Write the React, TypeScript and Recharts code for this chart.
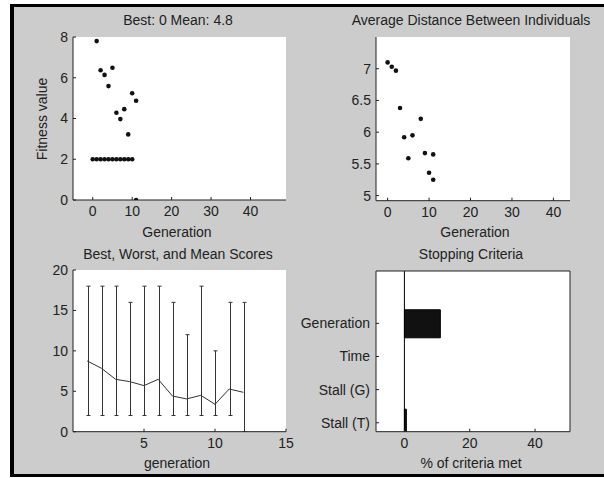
import React from "react";
import {
  ScatterChart, Scatter, ComposedChart, Line, Bar, BarChart,
  XAxis, YAxis, CartesianGrid, ReferenceLine,
} from "recharts";

const W = 604, H = 478;
const YW = 70, XH = 30;
const ink = "#222";
const font = "'Liberation Sans', Arial, sans-serif";

// top-left: best / mean fitness per generation
const bestGens = [0, 1, 2, 3, 4, 5, 6, 7, 8, 9, 10, 11];
const bestFitness = [2, 2, 2, 2, 2, 2, 2, 2, 2, 2, 2, 0];
const meanGens = [1, 2, 3, 4, 5, 6, 7, 8, 9, 10, 11];
const meanFitness = [7.8, 6.37, 6.14, 5.59, 6.49, 4.28, 3.97, 4.46, 3.22, 5.24, 4.87];

// top-right: average distance
const distGens = [0, 1, 2, 3, 4, 5, 6, 8, 9, 10, 11, 11];
const distValues = [7.1, 7.03, 6.97, 6.38, 5.92, 5.59, 5.95, 6.21, 5.67, 5.36, 5.65, 5.25];

// bottom-left: best, worst, mean scores
const scoreGens = [1, 2, 3, 4, 5, 6, 7, 8, 9, 10, 11, 12];
const bestScores = [2, 2, 2, 2, 2, 2, 2, 2, 2, 2, 2, 0];
const worstScores = [18, 18, 18, 16, 18, 18, 16, 12, 18, 10, 16, 16];
const meanScores = [8.75, 7.85, 6.48, 6.19, 5.7, 6.48, 4.42, 4.05, 4.5, 3.39, 5.28, 4.87];

// bottom-right: stopping criteria (bottom to top)
const criteria = ["Stall (T)", "Stall (G)", "Time", "Generation"];
const criteriaPct = [0.6, 0, 0, 11];

const bestPts = bestGens.map((g, i) => ({ gen: g, val: bestFitness[i] }));
const meanPts = meanGens.map((g, i) => ({ gen: g, val: meanFitness[i] }));
const distPts = distGens.map((g, i) => ({ gen: g, val: distValues[i] }));
const scoreRows = scoreGens.map((g, i) => ({ gen: g, best: bestScores[i], worst: worstScores[i], mean: meanScores[i] }));
const stopRows = criteria.map((c, i) => ({ pos: i + 1, name: c, pct: criteriaPct[i] }));

const tickStyle = { fill: ink, fontSize: 14, fontFamily: font };

// plot rect -> margins
const mg = (l: number, t: number, r: number, b: number, extraR = 0, extraT = 0) => ({
  left: l - YW, top: t - extraT, right: W - r - extraR, bottom: H - b - XH,
});

const Dot = (p: any) => <circle cx={p.cx} cy={p.cy} r={2.3} fill="#111" />;

const RangeShape = (p: any) => {
  const cx = Math.round(p.x + p.width / 2) + 0.5;
  const y1 = p.y, y2 = p.y + p.height;
  return (
    <g stroke="#333" strokeWidth={1}>
      <line x1={cx} x2={cx} y1={y1} y2={y2} />
      <line x1={cx - 2} x2={cx + 2} y1={y1} y2={y1} />
      <line x1={cx - 2} x2={cx + 2} y1={y2} y2={y2} />
    </g>
  );
};

const layer: React.CSSProperties = { position: "absolute", left: 0, top: 0 };

const Txt = ({ x, y, children, rot }: { x: number; y: number; children: React.ReactNode; rot?: boolean }) => (
  <div style={{
    position: "absolute", left: x, top: y, whiteSpace: "nowrap", fontSize: 14, color: ink, fontFamily: font,
    transform: `translate(-50%,-50%)${rot ? " rotate(-90deg)" : ""}`, lineHeight: 1,
  }}>{children}</div>
);

export default function App() {
  return (
    <div style={{ position: "absolute", left: 0, top: 0, width: W, height: H, background: "#fff", overflow: "hidden", fontFamily: font }}>
      <div style={{
        position: "absolute", left: 10, top: 4, width: W + 10, height: 473, boxSizing: "border-box",
        background: "#cccccc", borderTop: "3px solid #000", borderLeft: "4px solid #000", borderBottom: "3px solid #000",
      }} />

      {/* top-left */}
      <div style={layer}>
        <ScatterChart width={W} height={H} margin={mg(73, 37, 286, 200)}>
          <CartesianGrid fill="#fff" horizontal={false} vertical={false} />
          <XAxis type="number" dataKey="gen" domain={[-5, 49]} ticks={[0, 10, 20, 30, 40]} interval={0}
            height={XH} tickSize={-3} tickMargin={9} stroke={ink} tick={tickStyle} allowDataOverflow />
          <YAxis type="number" dataKey="val" domain={[0, 8]} ticks={[0, 2, 4, 6, 8]} interval={0}
            width={YW} tickSize={-3} tickMargin={8} stroke={ink} tick={tickStyle} allowDataOverflow />
          <Scatter data={bestPts} shape={Dot} isAnimationActive={false} />
          <Scatter data={meanPts} shape={Dot} isAnimationActive={false} />
        </ScatterChart>
      </div>

      {/* top-right */}
      <div style={layer}>
        <ScatterChart width={W} height={H} margin={mg(376, 37, 570, 200.7)}>
          <CartesianGrid fill="#fff" horizontal={false} vertical={false} />
          <XAxis type="number" dataKey="gen" domain={[-2.8, 44]} ticks={[0, 10, 20, 30, 40]} interval={0}
            height={XH} tickSize={-3} tickMargin={9} stroke={ink} tick={tickStyle} allowDataOverflow />
          <YAxis type="number" dataKey="val" domain={[4.92, 7.5]} ticks={[5, 5.5, 6, 6.5, 7]} interval={0}
            width={YW} tickSize={-3} tickMargin={8} stroke={ink} tick={tickStyle} allowDataOverflow />
          <Scatter data={distPts} shape={Dot} isAnimationActive={false} />
        </ScatterChart>
      </div>

      {/* bottom-left */}
      <div style={layer}>
        <ComposedChart width={W} height={H} data={scoreRows} margin={mg(73, 270, 286, 431.7)}>
          <CartesianGrid fill="#fff" horizontal={false} vertical={false} />
          <XAxis type="number" dataKey="gen" domain={[0, 15]} ticks={[5, 10, 15]} interval={0}
            height={XH} tickSize={-3} tickMargin={9} stroke={ink} tick={tickStyle} allowDataOverflow />
          <YAxis type="number" domain={[0, 20]} ticks={[0, 5, 10, 15, 20]} interval={0}
            width={YW} tickSize={-3} tickMargin={8} stroke={ink} tick={tickStyle} allowDataOverflow />
          <Bar dataKey={(d: any) => [d.best, d.worst]} barSize={5} shape={RangeShape} isAnimationActive={false} />
          <Line type="linear" dataKey="mean" stroke="#333" strokeWidth={1} dot={false} isAnimationActive={false} />
        </ComposedChart>
      </div>

      {/* bottom-right */}
      <div style={layer}>
        <BarChart layout="vertical" width={W} height={H} data={stopRows} barSize={28}
          margin={mg(376, 271, 570, 431.7, 10, 10)}>
          <CartesianGrid fill="#fff" horizontal={false} vertical={false} />
          <XAxis type="number" domain={[-8.7, 50.7]} ticks={[0, 20, 40]} interval={0}
            height={XH} tickSize={-3} tickMargin={9} stroke={ink} tick={tickStyle} allowDataOverflow />
          <XAxis xAxisId="top" orientation="top" type="number" domain={[-8.7, 50.7]} ticks={[0, 20, 40]}
            height={10} tickSize={-3} tick={false} stroke={ink} allowDataOverflow />
          <YAxis type="number" dataKey="pos" domain={[0.73, 5.58]} ticks={[1, 2, 3, 4]} interval={0} reversed
            tickFormatter={(v: number) => criteria[v - 1]}
            width={YW} tickSize={-3} tickMargin={9} stroke={ink} tick={tickStyle} allowDataOverflow />
          <YAxis yAxisId="right" orientation="right" type="number" dataKey="pos" domain={[0.73, 5.58]} ticks={[1, 2, 3, 4]} reversed
            width={10} tickSize={-3} tick={false} stroke={ink} allowDataOverflow />
          <Bar dataKey="pct" fill="#111" stroke="#000" isAnimationActive={false} />
          <Bar dataKey="pct" xAxisId="top" yAxisId="right" fill="none" stroke="none" isAnimationActive={false} />
          <ReferenceLine x={0} stroke="#000" strokeWidth={1} />
        </BarChart>
      </div>

      <Txt x={178} y={20}>Best: 0 Mean: 4.8</Txt>
      <Txt x={471} y={20}>Average Distance Between Individuals</Txt>
      <Txt x={178} y={254}>Best, Worst, and Mean Scores</Txt>
      <Txt x={471} y={254}>Stopping Criteria</Txt>
      <Txt x={42} y={118.5} rot>Fitness value</Txt>
      <Txt x={177} y={232}>Generation</Txt>
      <Txt x={475} y={232}>Generation</Txt>
      <Txt x={177} y={463}>generation</Txt>
      <Txt x={471} y={463}>% of criteria met</Txt>
    </div>
  );
}
